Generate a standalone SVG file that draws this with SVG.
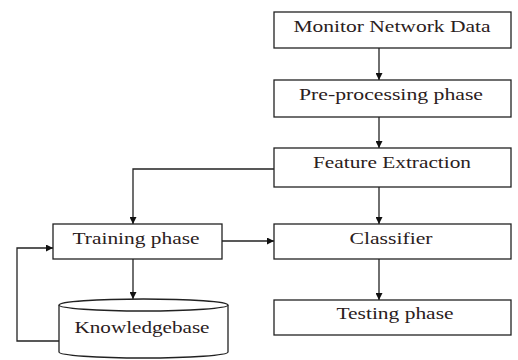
<svg xmlns="http://www.w3.org/2000/svg" width="518" height="360" viewBox="0 0 518 360">
<style>
.box{fill:#fff;stroke:#222;stroke-width:1.3}
.lbl{font-family:"Liberation Serif","Times New Roman",serif;font-size:16px;fill:#2a2020;text-anchor:middle}
.ln{fill:none;stroke:#222;stroke-width:1.3}
</style>
<defs>
<marker id="ah" viewBox="0 0 10 10" refX="10" refY="5" markerWidth="7" markerHeight="7" markerUnits="userSpaceOnUse" orient="auto">
<path d="M0,0 L10,5 L0,10 z" fill="#111"/>
</marker>
</defs>
<rect width="518" height="360" fill="#fff"/>
<g id="connectors">
<line class="ln" x1="379" y1="48" x2="379" y2="80" marker-end="url(#ah)"/>
<line class="ln" x1="379" y1="117" x2="379" y2="148" marker-end="url(#ah)"/>
<line class="ln" x1="379" y1="187" x2="379" y2="224" marker-end="url(#ah)"/>
<line class="ln" x1="379" y1="259" x2="379" y2="300" marker-end="url(#ah)"/>
<polyline class="ln" points="274,169 133,169 133,224" marker-end="url(#ah)"/>
<line class="ln" x1="222" y1="241" x2="274" y2="241" marker-end="url(#ah)"/>
<line class="ln" x1="133" y1="259" x2="133" y2="299" marker-end="url(#ah)"/>
<polyline class="ln" points="59,341 17,341 17,248 53,248" marker-end="url(#ah)"/>
</g>
<g id="monitor">
<rect class="box" x="274" y="12" width="237" height="36"/>
<text class="lbl" x="392" y="32" textLength="197" lengthAdjust="spacingAndGlyphs">Monitor Network Data</text>
</g>
<g id="preprocessing">
<rect class="box" x="274" y="80" width="237" height="37"/>
<text class="lbl" x="391" y="100" textLength="184" lengthAdjust="spacingAndGlyphs">Pre-processing phase</text>
</g>
<g id="feature">
<rect class="box" x="274" y="148" width="237" height="39"/>
<text class="lbl" x="392" y="168" textLength="158" lengthAdjust="spacingAndGlyphs">Feature Extraction</text>
</g>
<g id="training">
<rect class="box" x="53" y="224" width="169" height="35"/>
<text class="lbl" x="136" y="244" textLength="127" lengthAdjust="spacingAndGlyphs">Training phase</text>
</g>
<g id="classifier">
<rect class="box" x="274" y="224" width="237" height="35"/>
<text class="lbl" x="391" y="244" textLength="83" lengthAdjust="spacingAndGlyphs">Classifier</text>
</g>
<g id="testing">
<rect class="box" x="274" y="300" width="237" height="35"/>
<text class="lbl" x="395" y="319" textLength="117" lengthAdjust="spacingAndGlyphs">Testing phase</text>
</g>
<g id="knowledgebase">
<path class="box" d="M59,305 L59,352 A84.5,6 0 0 0 228,352 L228,305"/>
<ellipse class="box" cx="143.5" cy="305" rx="84.5" ry="6"/>
<text class="lbl" x="142" y="333" textLength="135" lengthAdjust="spacingAndGlyphs">Knowledgebase</text>
</g>
</svg>
